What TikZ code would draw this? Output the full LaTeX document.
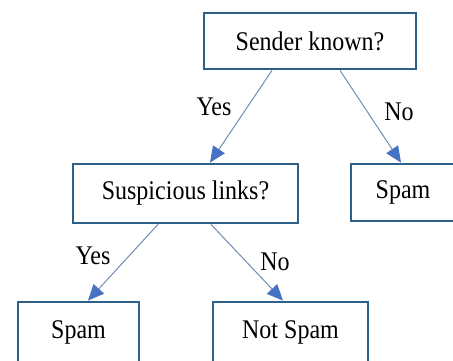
\documentclass[tikz,border=0pt]{standalone}
\usepackage{fontspec}
\usepackage{graphicx}
\setmainfont{Liberation Serif}
\usetikzlibrary{arrows.meta}
\definecolor{boxblue}{RGB}{46,96,136}
\definecolor{linkblue}{RGB}{115,140,185}
\definecolor{headblue}{RGB}{68,114,196}
\newcommand{\tallt}[1]{\scalebox{0.98}[1.1]{#1}}
\tikzset{
  box/.style={draw=boxblue, line width=2.8pt, fill=white, rectangle, inner sep=0pt,
    font=\fontsize{24.5}{29}\selectfont},
  arr/.style={draw=linkblue, line width=1pt,
    -{Triangle[length=16pt,width=14pt,fill=headblue,color=headblue]}},
  lbl/.style={font=\fontsize{24.5}{29}\selectfont, inner sep=0pt}
}
\begin{document}
\begin{tikzpicture}[x=1pt,y=-1pt]
\useasboundingbox[fill=white] (0,0) rectangle (453,360);
\node[box, minimum width=212pt, minimum height=56pt] (sender) at (310,41) {\tallt{Sender known?}};
\node[box, minimum width=225pt, minimum height=59pt] (susp) at (185.5,193.5) {\tallt{Suspicious links?}};
\node[box, minimum width=104pt, minimum height=57pt] (spamR) at (403,192.5) {\tallt{Spam}};
\node[box, minimum width=121pt, minimum height=60pt] (spamL) at (78.5,332) {\tallt{Spam}};
\node[box, minimum width=155pt, minimum height=60pt] (notspam) at (290.5,332) {\tallt{Not Spam}};
\draw[arr] ([xshift=-38pt]sender.south) -- ([xshift=24.5pt]susp.north);
\draw[arr] ([xshift=30pt]sender.south) -- ([xshift=-2pt]spamR.north);
\draw[arr] ([xshift=-27.5pt]susp.south) -- ([xshift=9.5pt]spamL.north);
\draw[arr] ([xshift=25.5pt]susp.south) -- ([xshift=-7.5pt]notspam.north);
\node[lbl] (yes1) at (214,107) {\tallt{Yes}};
\node[lbl] (no1) at (399,112) {\tallt{No}};
\node[lbl] (yes2) at (93,256) {\tallt{Yes}};
\node[lbl] (no2) at (275,262) {\tallt{No}};
\end{tikzpicture}
\end{document}
